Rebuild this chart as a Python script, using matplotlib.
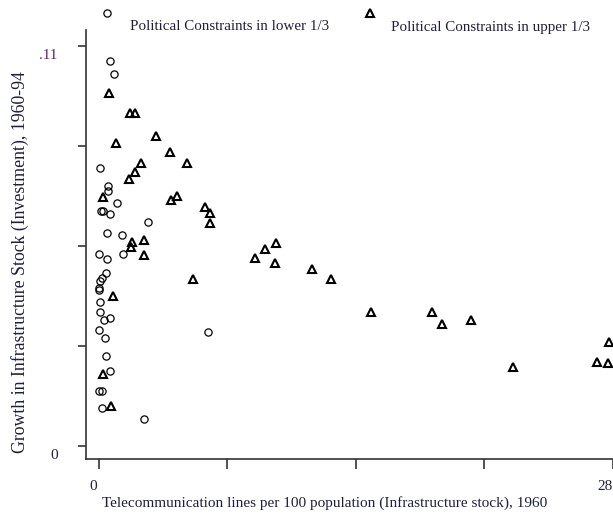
import matplotlib
matplotlib.use("Agg")
import matplotlib.pyplot as plt
from matplotlib.lines import Line2D

plt.rcParams['font.family'] = ['Liberation Serif', 'DejaVu Serif']

# Telecom lines per 100 pop (1960) vs growth in infrastructure stock, 1960-94
# lower third of political constraints (circles)
low_x = [0.60, 0.82, 0.05, 0.49, 0.49, 0.98, 0.11, 0.22, 0.60, 2.67, 0.44, 1.25,
         0.00, 0.44, 1.31, 0.38, 0.16, 0.05, 0.00, 0.02, 0.05, 0.05, 0.27, 0.60,
         0.00, 0.33, 0.38, 0.60, 0.00, 0.16, 0.16, 2.45, 5.94]
low_y = [0.1059, 0.1023, 0.0765, 0.0715, 0.0701, 0.0668, 0.0646, 0.0646, 0.0638,
         0.0616, 0.0586, 0.0580, 0.0528, 0.0514, 0.0528, 0.0476, 0.0462, 0.0454,
         0.0435, 0.0429, 0.0396, 0.0369, 0.0347, 0.0352, 0.0319, 0.0297, 0.0248,
         0.0206, 0.0151, 0.0151, 0.0105, 0.0074, 0.0314]

# upper third of political constraints (triangles)
high_x = [0.54, 1.69, 1.96, 0.93, 3.11, 3.87, 2.29, 4.79, 1.96, 1.63, 0.22, 3.92,
          4.25, 5.77, 6.05, 6.05, 1.80, 1.74, 2.45, 2.45, 5.12, 0.76, 0.22, 0.65,
          9.04, 9.64, 8.50, 9.59, 11.60, 12.64, 14.82, 18.14, 18.69, 20.26, 22.55,
          27.13, 27.73, 27.78]
high_y = [0.0971, 0.0916, 0.0916, 0.0833, 0.0853, 0.0809, 0.0778, 0.0778, 0.0754,
          0.0734, 0.0685, 0.0677, 0.0688, 0.0657, 0.0641, 0.0613, 0.0561, 0.0547,
          0.0567, 0.0525, 0.0459, 0.0413, 0.0198, 0.0110, 0.0542, 0.0558, 0.0517,
          0.0503, 0.0487, 0.0459, 0.0369, 0.0369, 0.0336, 0.0347, 0.0217, 0.0231,
          0.0228, 0.0286]

xticks = [0, 7, 14, 21, 28]
xtick_labels = ['0', '', '', '', '28']
yticks = [0, 0.0275, 0.055, 0.0825, 0.11]
ytick_labels = ['0', '', '', '', '.11']

text_col = '#1e1e40'
axis_col = '#333333'

fig = plt.figure(figsize=(6.13, 5.14), dpi=100)
ax = fig.add_axes([0.1403, 0.107, 0.871, 0.8346])

ax.plot(low_x, low_y, 'o', ms=5.2, mfc='none', mec='black', mew=0.9, clip_on=False)
ax.plot(high_x, high_y, '^', ms=6.2, mfc='none', mec='black', mew=1.5, clip_on=False)

ax.set_xlim(-0.708, 28.38)
ax.set_ylim(-0.003575, 0.1144)

for s in ['top', 'right']:
    ax.spines[s].set_visible(False)
for s in ['left', 'bottom']:
    ax.spines[s].set_color(axis_col)
    ax.spines[s].set_linewidth(1.2)

ax.set_xticks(xticks)
ax.set_xticklabels([])
ax.set_yticks(yticks)
ax.set_yticklabels([])
ax.tick_params(axis='x', direction='out', length=7, width=1.2, color=axis_col)
ax.tick_params(axis='y', direction='out', length=6, width=1.2, color=axis_col)

# tick labels, offset like the original
for v, lab in zip(xticks, xtick_labels):
    if lab:
        ax.annotate(lab, xy=(v, 0), xycoords=('data', 'axes fraction'),
                    xytext=(-4 if lab == '0' else -5.5, -19.5), textcoords='offset points',
                    ha='center', va='center', fontsize=11, color=text_col,
                    annotation_clip=False)
for v, lab in zip(yticks, ytick_labels):
    if lab:
        ax.annotate(lab, xy=(0, v), xycoords=('axes fraction', 'data'),
                    xytext=(-20.5, -6.5), textcoords='offset points',
                    ha='right', va='center', fontsize=11,
                    color='#6e2070' if lab == '.11' else text_col,
                    annotation_clip=False)

fig.text(0.530, 0.021, 'Telecommunication lines per 100 population (Infrastructure stock), 1960',
         ha='center', va='center', fontsize=11, color=text_col)
fig.text(0.033, 0.49, 'Growth in Infrastructure Stock (Investment), 1960-94',
         rotation=90, ha='center', va='center', fontsize=12.8, color=text_col)

# legend keys sit above-left of their text
fig.add_artist(Line2D([107 / 613], [1 - 13 / 514], marker='o', ms=5.2, mfc='none',
                      mec='black', mew=0.9, transform=fig.transFigure))
fig.text(130 / 613, 1 - 27 / 514, 'Political Constraints in lower 1/3',
         ha='left', va='center', fontsize=10.8, color=text_col)
fig.add_artist(Line2D([370 / 613], [1 - 13 / 514], marker='^', ms=6.2, mfc='none',
                      mec='black', mew=1.5, transform=fig.transFigure))
fig.text(391 / 613, 1 - 27 / 514, 'Political Constraints in upper 1/3',
         ha='left', va='center', fontsize=10.8, color=text_col)

fig.savefig('out.png', dpi=100)
